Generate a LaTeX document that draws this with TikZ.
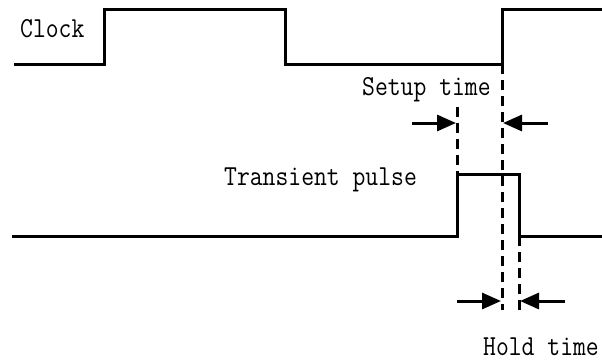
\documentclass[tikz,border=0pt]{standalone}
\usepackage{fontspec}
\usetikzlibrary{arrows.meta}
\newcommand{\lbltext}[1]{\scalebox{0.86}[1]{\fontsize{29}{29}\selectfont\ttfamily #1}}
\tikzset{
  wave/.style={line width=3pt, line join=miter},
  guide/.style={line width=3pt, dash pattern=on 10pt off 6pt},
  gap/.style={line width=3pt, -{Triangle[length=19pt,width=16pt]}},
  lbl/.style={anchor=base west, inner sep=0pt}
}
\begin{document}
\begin{tikzpicture}[x=1pt,y=-1pt]
\useasboundingbox (0,0) rectangle (602,362);
% clock waveform
\draw[wave] (14,64) -- (104,64) -- (104,9) -- (285,9) -- (285,64) -- (502,64) -- (502,9) -- (602,9);
% transient pulse waveform
\draw[wave] (12,236) -- (457,236) -- (457,174) -- (519,174) -- (519,236) -- (602,236);
% dashed guides
\coordinate (s1top) at (457,107);
\coordinate (s1bot) at (457,174);
\coordinate (ctop) at (502,64);
\coordinate (cbot) at (502,310);
\coordinate (htop) at (519,236);
\coordinate (hbot) at (519,310);
\draw[guide] (s1top) -- (s1bot);
\draw[guide] (ctop) -- (cbot);
\draw[guide] (htop) -- (hbot);
% setup arrows
\coordinate (sa1) at (412,123);
\coordinate (sa1t) at (456,123);
\coordinate (sa2) at (548,123);
\coordinate (sa2t) at (503,123);
\draw[gap] (sa1) -- (sa1t);
\draw[gap] (sa2) -- (sa2t);
% hold arrows
\coordinate (ha1) at (457,301);
\coordinate (ha1t) at (501,301);
\coordinate (ha2) at (565,301);
\coordinate (ha2t) at (520,301);
\draw[gap] (ha1) -- (ha1t);
\draw[gap] (ha2) -- (ha2t);
% labels
\node[lbl] (clk) at (20,37) {\lbltext{Clock}};
\node[lbl] (setup) at (362,95) {\lbltext{Setup time}};
\node[lbl] (trans) at (224,185) {\lbltext{Transient pulse}};
\node[lbl] (hold) at (483,355) {\lbltext{Hold time}};
\end{tikzpicture}
\end{document}
